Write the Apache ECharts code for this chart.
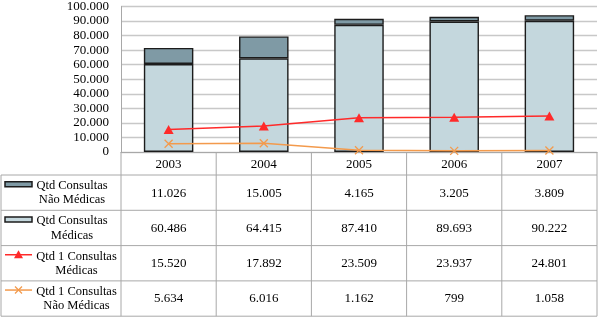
<!DOCTYPE html>
<html>
<head>
<meta charset="utf-8">
<script src="https://cdn.jsdelivr.net/npm/echarts@6/dist/echarts.min.js"></script>
<style>
  html, body { margin: 0; padding: 0; background: #fff; }
</style>
</head>
<body>
<div id="container" style="width: 600px; height: 318px"></div>
<script>
// dados
const years = ['2003', '2004', '2005', '2006', '2007']
const consultasNaoMedicas = [11026, 15005, 4165, 3205, 3809]
const consultasMedicas = [60486, 64415, 87410, 89693, 90222]
const primConsultasMedicas = [15520, 17892, 23509, 23937, 24801]
const primConsultasNaoMedicas = [5634, 6016, 1162, 799, 1058]
const yTickValues = [0, 10000, 20000, 30000, 40000, 50000, 60000, 70000, 80000, 90000, 100000]

const FONT = '"Liberation Serif", "Times New Roman", serif'
const DARK = '#7f9aa5'
const LIGHT = '#c4d7dd'
const RED = '#ff2a2a'
const ORANGE = '#f39a4c'
const TABLE_LINE = '#a8a8a8'

// separador de milhar com ponto
function fmt(n) {
  return String(n).replace(/\B(?=(\d{3})+(?!\d))/g, '.')
}

const chart = echarts.init(document.getElementById('container'))

const option = {
  animation: false,
  grid: { left: 121, right: 3, top: 3, bottom: 166 },
  xAxis: {
    type: 'category',
    data: years,
    axisLine: { lineStyle: { color: TABLE_LINE, width: 1 } },
    axisTick: { show: false },
    axisLabel: { show: false }
  },
  yAxis: {
    type: 'value',
    min: yTickValues[0],
    max: yTickValues[yTickValues.length - 1],
    interval: yTickValues[1] - yTickValues[0],
    axisLine: { show: true, lineStyle: { color: TABLE_LINE, width: 1 } },
    axisTick: { show: false },
    axisLabel: {
      margin: 12,
      color: '#000',
      fontFamily: FONT,
      fontSize: 13,
      formatter: (v) => fmt(v)
    },
    splitLine: { lineStyle: { color: '#c8c8c8', width: 1.3 } }
  },
  series: [
    {
      name: 'Qtd Consultas Médicas',
      type: 'bar',
      stack: 'total',
      barWidth: '52%',
      data: consultasMedicas,
      itemStyle: { color: LIGHT, borderColor: '#1c1c1c', borderWidth: 1.4 }
    },
    {
      name: 'Qtd Consultas Não Médicas',
      type: 'bar',
      stack: 'total',
      barWidth: '52%',
      data: consultasNaoMedicas,
      itemStyle: { color: DARK, borderColor: '#1c1c1c', borderWidth: 1.4 }
    },
    {
      name: 'Qtd 1 Consultas Médicas',
      type: 'line',
      data: primConsultasMedicas,
      symbol: 'triangle',
      symbolSize: [10, 9],
      lineStyle: { color: RED, width: 1.5 },
      itemStyle: { color: RED }
    },
    {
      name: 'Qtd 1 Consultas Não Médicas',
      type: 'line',
      data: primConsultasNaoMedicas,
      symbol: 'path://M0,0L10,10M10,0L0,10',
      symbolSize: 8,
      lineStyle: { color: ORANGE, width: 1.5 },
      itemStyle: { color: 'transparent', borderColor: ORANGE, borderWidth: 1.3 }
    }
  ]
}

chart.setOption(option)

// tabela de dados abaixo do gráfico, alinhada às categorias do eixo
const centers = years.map((y, i) => chart.convertToPixel({ xAxisIndex: 0 }, i))
const colW = centers[1] - centers[0]
const tableLeft = 1
const plotLeft = centers[0] - colW / 2
const plotRight = centers[centers.length - 1] + colW / 2
const headerTop = chart.convertToPixel({ yAxisIndex: 0 }, 0)
const headerBottom = 175
const rowH = 35.3

const rows = [
  { lines: ['Qtd Consultas', 'Não Médicas'], values: consultasNaoMedicas, icon: 'bar', color: DARK },
  { lines: ['Qtd Consultas', 'Médicas'], values: consultasMedicas, icon: 'bar', color: LIGHT },
  { lines: ['Qtd 1 Consultas', 'Médicas'], values: primConsultasMedicas, icon: 'tri', color: RED },
  { lines: ['Qtd 1 Consultas', 'Não Médicas'], values: primConsultasNaoMedicas, icon: 'x', color: ORANGE }
]

const tableBottom = headerBottom + rowH * rows.length
const g = []
const lineStyle = { stroke: TABLE_LINE, lineWidth: 1 }

function hline(x1, x2, y) {
  g.push({ type: 'line', shape: { x1: x1, y1: y, x2: x2, y2: y }, style: lineStyle, silent: true })
}
function vline(x, y1, y2) {
  g.push({ type: 'line', shape: { x1: x, y1: y1, x2: x, y2: y2 }, style: lineStyle, silent: true })
}
function text(str, x, y, size) {
  g.push({
    type: 'text',
    silent: true,
    style: { text: str, x: x, y: y, fill: '#000', font: (size || 13) + 'px ' + FONT, align: 'center', verticalAlign: 'middle' }
  })
}

// linhas da tabela
hline(tableLeft, plotRight, headerBottom)
rows.forEach((r, i) => hline(tableLeft, plotRight, headerBottom + rowH * (i + 1)))
vline(tableLeft, headerBottom, tableBottom)
vline(plotLeft, headerTop, tableBottom)
centers.forEach((c) => vline(c + colW / 2, headerTop, tableBottom))

// cabeçalho com os anos
years.forEach((y, i) => text(y, centers[i], (headerTop + headerBottom) / 2 + 1))

// linhas de valores e legenda
rows.forEach((r, i) => {
  const mid = headerBottom + rowH * i + rowH / 2
  const iconY = mid - 8.5
  if (r.icon === 'bar') {
    g.push({
      type: 'rect',
      silent: true,
      shape: { x: 5, y: iconY - 2.5, width: 27, height: 5 },
      style: { fill: r.color, stroke: '#1c1c1c', lineWidth: 1.5 }
    })
  } else {
    g.push({ type: 'line', silent: true, shape: { x1: 5, y1: iconY, x2: 32, y2: iconY }, style: { stroke: r.color, lineWidth: 1.5 } })
    if (r.icon === 'tri') {
      g.push({
        type: 'polygon',
        silent: true,
        shape: { points: [[18.5, iconY - 4.5], [23, iconY + 3.5], [14, iconY + 3.5]] },
        style: { fill: r.color }
      })
    } else {
      g.push({ type: 'line', silent: true, shape: { x1: 15, y1: iconY - 3.5, x2: 22, y2: iconY + 3.5 }, style: { stroke: r.color, lineWidth: 1.3 } })
      g.push({ type: 'line', silent: true, shape: { x1: 22, y1: iconY - 3.5, x2: 15, y2: iconY + 3.5 }, style: { stroke: r.color, lineWidth: 1.3 } })
    }
  }
  const labelX = r.icon === 'bar' ? 72 : 76.5
  text(r.lines[0], labelX, mid - 7, 12.5)
  text(r.lines[1], labelX, mid + 7.5, 12.5)
  r.values.forEach((v, j) => text(fmt(v), centers[j], mid + 0.5))
})

chart.setOption({ graphic: g })
</script>
</body>
</html>
